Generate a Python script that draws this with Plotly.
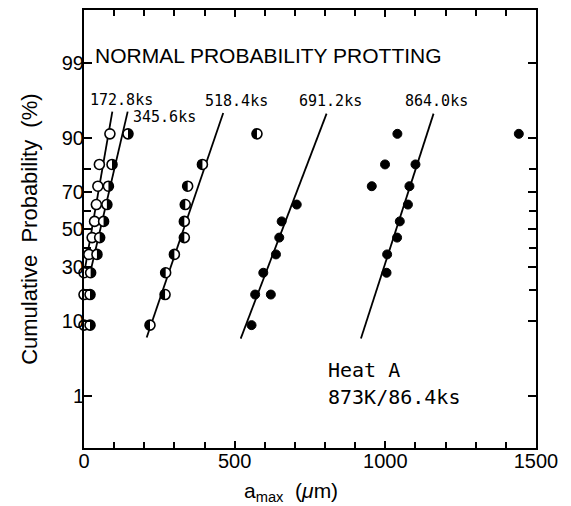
import plotly.graph_objects as go
from statistics import NormalDist

_nd = NormalDist()


def z(p):
    """Probit transform: cumulative probability (%) -> standard normal quantile."""
    return _nd.inv_cdf(p / 100.0)


# ---------------- data ----------------
# cumulative probability plotting positions (%)
prob_pos = [9.1, 18.2, 27.3, 36.4, 45.5, 54.5, 63.6, 72.7, 81.8, 90.9]

# 172.8 ks (open circles)
a172_x = [0, 0, 0, 16, 27, 35, 41, 46, 51, 86]
a172_p = prob_pos

# 345.6 ks (right half filled)
a345_x = [20, 20, 22, 43, 52, 65, 76, 81, 93, 146]
a345_p = prob_pos

# 518.4 ks (left half filled)
a518_x = [219, 269, 271, 300, 333, 333, 336, 344, 393, 574]
a518_p = prob_pos

# 691.2 ks (filled)
a691_x = [556, 568, 620, 595, 637, 648, 656, 706]
a691_p = [9.1, 18.2, 18.2, 27.3, 36.4, 45.5, 54.5, 63.6]

# 864.0 ks (filled)
a864_x = [1004, 1006, 1039, 1048, 1075, 1080, 1100, 1443, 955, 999, 1040]
a864_p = [27.3, 36.4, 45.5, 54.5, 63.6, 72.7, 81.8, 90.9, 72.7, 81.8, 90.9]

# fitted lines (end points)
fit172_x = [3, 94]
fit172_p = [29.0, 95.0]
fit345_x = [20, 145]
fit345_p = [27.0, 95.0]
fit518_x = [208, 462]
fit518_p = [6.6, 94.8]
fit691_x = [520, 805]
fit691_p = [6.4, 94.7]
fit864_x = [919, 1160]
fit864_p = [6.4, 94.7]

series_labels = ["172.8ks", "345.6ks", "518.4ks", "691.2ks", "864.0ks"]

y_tick_pct = [1, 10, 30, 50, 70, 90, 99]
y_minor_pct = [20, 40, 60, 80]
x_tick_vals = [0, 500, 1000, 1500]

# ---------------- figure ----------------
TICKFONT = dict(family="Liberation Sans, Arial, sans-serif", size=20, color="black")
MONO = "DejaVu Sans Mono, Liberation Mono, monospace"
SANS = "Liberation Sans, Arial, sans-serif"

fig = go.Figure()

# fitted lines
for fx, fp in [(fit172_x, fit172_p), (fit345_x, fit345_p), (fit518_x, fit518_p),
               (fit691_x, fit691_p), (fit864_x, fit864_p)]:
    fig.add_trace(go.Scatter(x=fx, y=[z(p) for p in fp], mode="lines",
                             line=dict(color="black", width=1.8),
                             hoverinfo="skip"))

# open / half markers (white fill with black outline)
for xs, ps in [(a172_x, a172_p), (a345_x, a345_p), (a518_x, a518_p)]:
    fig.add_trace(go.Scatter(x=xs, y=[z(p) for p in ps], mode="markers",
                             cliponaxis=False,
                             marker=dict(symbol="circle", size=10, color="white",
                                         line=dict(color="black", width=1.6))))

# filled markers
for xs, ps in [(a691_x, a691_p), (a864_x, a864_p)]:
    fig.add_trace(go.Scatter(x=xs, y=[z(p) for p in ps], mode="markers",
                             cliponaxis=False,
                             marker=dict(symbol="circle", size=9, color="black",
                                         line=dict(color="black", width=1))))

# half-filled overlays (pixel-sized shapes anchored at each data point)
R = 5.0
K = 0.5523 * R
right_half = (f"M0,{R} C{K},{R} {R},{K} {R},0 C{R},{-K} {K},{-R} 0,{-R} Z")
left_half = (f"M0,{R} C{-K},{R} {-R},{K} {-R},0 C{-R},{-K} {-K},{-R} 0,{-R} Z")
shapes = []
for xs, ps, path in [(a345_x, a345_p, right_half), (a518_x, a518_p, left_half)]:
    for xv, pv in zip(xs, ps):
        shapes.append(dict(type="path", xref="x", yref="y",
                           xsizemode="pixel", ysizemode="pixel",
                           xanchor=xv, yanchor=z(pv), path=path,
                           fillcolor="black", line=dict(width=0),
                           layer="above"))

# annotations
annots = []
label_pos = [(123, 96.5), (268, 94.1), (505, 96.3), (819, 96.3), (1171, 96.3)]
for txt, (lx, lp) in zip(series_labels, label_pos):
    annots.append(dict(x=lx, y=z(lp), xref="x", yref="y", text=txt, showarrow=False,
                       font=dict(family=MONO, size=15, color="black"),
                       xanchor="center", yanchor="middle"))

annots.append(dict(x=611, y=z(99.25), xref="x", yref="y",
                   text="NORMAL PROBABILITY PROTTING", showarrow=False,
                   font=dict(family=SANS, size=21, color="black"),
                   xanchor="center", yanchor="middle"))
annots.append(dict(x=804, y=z(2.47), xref="x", yref="y", text="Heat A",
                   showarrow=False, font=dict(family=MONO, size=20, color="black"),
                   xanchor="left", yanchor="middle"))
annots.append(dict(x=804, y=z(0.975), xref="x", yref="y", text="873K/86.4ks",
                   showarrow=False, font=dict(family=MONO, size=20, color="black"),
                   xanchor="left", yanchor="middle"))
# axis titles
annots.append(dict(x=687, y=-0.10, xref="x", yref="paper",
                   text="a<sub>max</sub>  (<i>μ</i>m)", showarrow=False,
                   font=dict(family=SANS, size=21, color="black"),
                   xanchor="center", yanchor="middle"))
annots.append(dict(x=-0.122, y=0.5, xref="paper", yref="paper",
                   text="Cumulative  Probability  (%)", textangle=-90, showarrow=False,
                   font=dict(family=SANS, size=22, color="black"),
                   xanchor="center", yanchor="middle"))

# page body has an 8px margin: size and place the figure to compensate
fig.update_layout(
    width=563, height=498,
    margin=dict(l=76, r=35, t=0, b=58),
    paper_bgcolor="white", plot_bgcolor="white",
    showlegend=False,
    shapes=shapes,
    annotations=annots,
)

fig.update_xaxes(
    range=[0, 1500], tickvals=x_tick_vals, ticktext=[str(v) for v in x_tick_vals],
    ticks="inside", ticklen=7, tickwidth=1.5, tickcolor="black",
    ticklabelstandoff=-6,
    showline=True, linecolor="black", linewidth=2, mirror="ticks",
    showgrid=False, zeroline=False, tickfont=TICKFONT,
    minor=dict(dtick=100, ticks="inside", ticklen=6, tickwidth=1.5, tickcolor="black",
               showgrid=False),
)
fig.update_yaxes(
    range=[-3.049, 3.0625],
    tickvals=[z(p) for p in y_tick_pct], ticktext=[str(p) for p in y_tick_pct],
    ticks="inside", ticklen=8, tickwidth=1.5, tickcolor="black",
    ticklabelstandoff=-6,
    showline=True, linecolor="black", linewidth=2, mirror="ticks",
    showgrid=False, zeroline=False, tickfont=TICKFONT,
    minor=dict(tickvals=[z(p) for p in y_minor_pct], ticks="inside", ticklen=7,
               tickwidth=1.5, tickcolor="black", showgrid=False),
)

fig.write_html("out.html")
